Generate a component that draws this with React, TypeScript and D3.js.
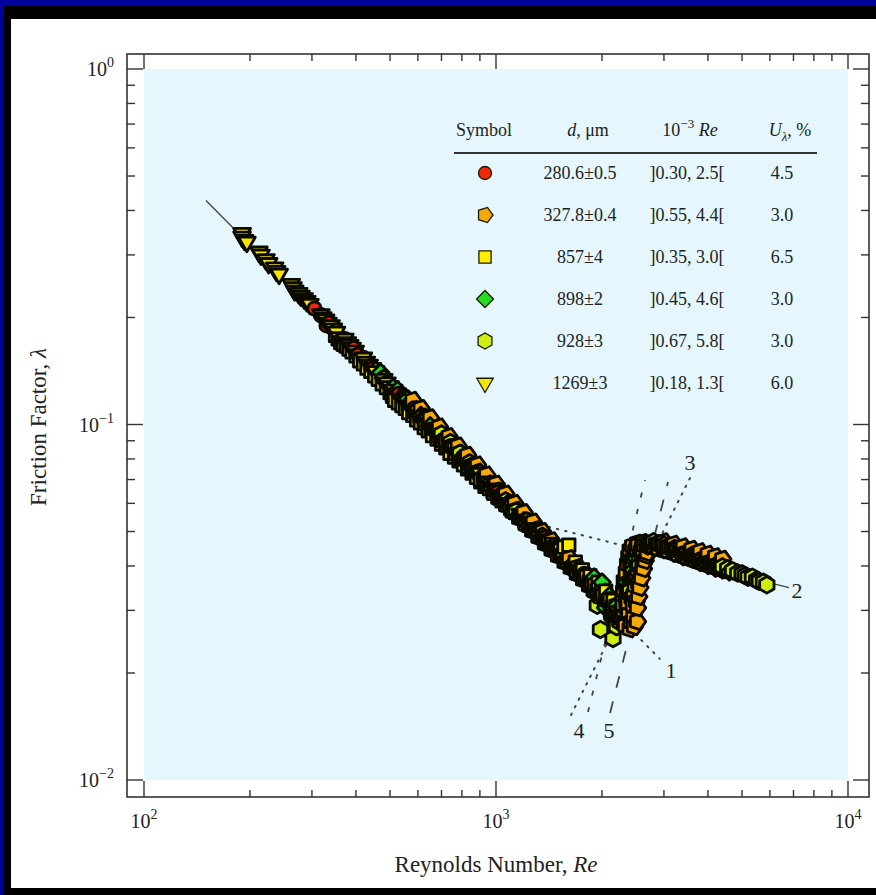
import React from "react";
import * as d3 from "d3";

const W = 876;
const H = 895;

// legend table text
const diameters = ["280.6±0.5", "327.8±0.4", "857±4", "898±2", "928±3", "1269±3"];
const reRanges = ["]0.30, 2.5[", "]0.55, 4.4[", "]0.35, 3.0[", "]0.45, 4.6[", "]0.67, 5.8[", "]0.18, 1.3["];
const uncertainties = ["4.5", "3.0", "6.5", "3.0", "3.0", "6.0"];

// measured points [Re, lambda] per tube diameter (several runs each)
const tube280 = [
  [305, 0.212], [318, 0.203], [335, 0.193], [352, 0.184], [372, 0.174], [395, 0.164],
  [420, 0.154], [448, 0.144], [478, 0.135], [510, 0.127], [545, 0.119], [585, 0.111],
  [625, 0.104], [670, 0.097], [720, 0.09], [775, 0.084], [835, 0.078], [900, 0.072],
  [970, 0.067], [1050, 0.062], [1130, 0.058], [1220, 0.054], [1320, 0.05], [1430, 0.046],
  [1540, 0.043], [1660, 0.0405], [1780, 0.038], [1900, 0.0365], [2000, 0.0355],
  [2080, 0.032], [2160, 0.029], [2250, 0.03], [2350, 0.033], [2450, 0.038],
  [330, 0.19], [365, 0.172], [405, 0.157], [440, 0.146], [490, 0.131], [530, 0.122],
  [565, 0.113], [605, 0.107], [650, 0.1], [695, 0.094], [745, 0.087], [805, 0.081],
  [870, 0.075], [935, 0.0695], [1010, 0.0645], [1090, 0.06], [1175, 0.056], [1270, 0.052],
  [1375, 0.048], [1485, 0.0445], [1600, 0.042], [1720, 0.0392], [1840, 0.0368], [1950, 0.0338],
  [2040, 0.0308], [2120, 0.0288], [2200, 0.0282], [2300, 0.0295], [2400, 0.035],
];

const tube328 = [
  [555, 0.118], [575, 0.114], [598, 0.109], [620, 0.105], [645, 0.101], [668, 0.097],
  [695, 0.0935], [722, 0.09], [752, 0.0865], [785, 0.083], [818, 0.0795], [852, 0.0765],
  [888, 0.0735], [925, 0.0705], [965, 0.0677], [1005, 0.065], [1048, 0.0624], [1092, 0.0598],
  [1140, 0.0574], [1190, 0.055], [1240, 0.0528], [1295, 0.0506], [1350, 0.0486], [1410, 0.0466],
  [1470, 0.0448], [1535, 0.043], [1600, 0.0413], [1665, 0.0398], [1735, 0.0383], [1805, 0.0369],
  [1875, 0.0356], [1945, 0.0343], [2015, 0.0331], [2085, 0.0319], [2150, 0.0308], [2215, 0.0297],
  [2280, 0.0287],
  [565, 0.112], [588, 0.108], [610, 0.1045], [632, 0.1], [657, 0.0965], [682, 0.0925],
  [708, 0.0895], [737, 0.0858], [768, 0.0825], [800, 0.079], [835, 0.0758], [870, 0.0728],
  [906, 0.0698], [945, 0.067], [985, 0.0642], [1027, 0.0617], [1070, 0.0592], [1116, 0.0568],
  [1165, 0.0545], [1215, 0.0523], [1268, 0.0502], [1322, 0.0482], [1380, 0.0462], [1440, 0.0444],
  [1502, 0.0427], [1568, 0.041], [1632, 0.0395], [1700, 0.038], [1770, 0.0366], [1840, 0.0352],
  [1910, 0.0339], [1980, 0.0327], [2050, 0.0315], [2118, 0.0303], [2182, 0.0292], [2245, 0.0282],
  [2310, 0.0275],
  [580, 0.117], [612, 0.111], [650, 0.1045], [690, 0.0985], [735, 0.0925], [780, 0.087],
  [830, 0.082], [885, 0.077], [940, 0.0722], [1000, 0.068], [1065, 0.0638], [1130, 0.06],
  [1200, 0.0566], [1275, 0.0532], [1355, 0.05], [1440, 0.0471], [1525, 0.0445], [1615, 0.042],
  [1710, 0.0397], [1810, 0.0375], [1910, 0.0355], [2010, 0.0338], [2110, 0.0322], [2200, 0.031],
  [2330, 0.0272], [2400, 0.0266], [2470, 0.027], [2300, 0.03], [2380, 0.0292], [2460, 0.0286],
  [2520, 0.0279], [2290, 0.032], [2370, 0.0315], [2450, 0.031], [2520, 0.0305],
  [2300, 0.034], [2380, 0.0336], [2460, 0.0332], [2540, 0.0328],
  [2320, 0.0362], [2400, 0.0357], [2480, 0.0352], [2560, 0.0348],
  [2340, 0.0384], [2420, 0.038], [2500, 0.0375], [2590, 0.037],
  [2360, 0.0405], [2440, 0.0402], [2520, 0.0398], [2620, 0.0393],
  [2380, 0.0425], [2460, 0.0422], [2550, 0.0418], [2650, 0.0414],
  [2400, 0.0443], [2490, 0.0442], [2580, 0.044], [2690, 0.0436],
  [2440, 0.0456], [2530, 0.0458], [2630, 0.0457], [2740, 0.0454],
  [2520, 0.0464], [2620, 0.0466], [2730, 0.0464],
  [2350, 0.0305], [2430, 0.0325], [2350, 0.035], [2440, 0.0368], [2520, 0.039], [2420, 0.0412],
  [2500, 0.043], [2600, 0.045], [2680, 0.046], [2780, 0.0466], [2260, 0.0285], [2420, 0.0278],
  [2500, 0.0318], [2540, 0.0358], [2580, 0.0382], [2610, 0.0404], [2680, 0.0428],
  [2850, 0.0461], [2950, 0.0457], [3050, 0.0453], [3150, 0.0449], [3250, 0.0445], [3350, 0.044],
  [3450, 0.0435], [3550, 0.043], [3650, 0.0426], [3750, 0.0421], [3850, 0.0417], [3950, 0.0413],
  [4050, 0.041], [4150, 0.0406], [4250, 0.0402], [4350, 0.0399],
  [2900, 0.0447], [3100, 0.0439], [3300, 0.043], [3500, 0.0422], [3700, 0.0414], [3900, 0.0407],
  [4100, 0.04], [4300, 0.0394],
  [3000, 0.0468], [3200, 0.0461], [3400, 0.0453], [3600, 0.0446], [3800, 0.0439], [4000, 0.0432],
  [4200, 0.0425], [4400, 0.0418],
  [2800, 0.0452], [3000, 0.0444], [3200, 0.0436], [3400, 0.0426], [3600, 0.0417], [3800, 0.0409],
  [4000, 0.0402], [4200, 0.0396], [4400, 0.039],
  [2760, 0.0458], [2880, 0.0453], [3060, 0.0446], [3260, 0.0438], [3460, 0.0431], [3660, 0.0423],
  [3860, 0.0415], [4060, 0.0408], [4260, 0.0401], [4380, 0.0408],
];

const tube857 = [
  [350, 0.178], [362, 0.17], [375, 0.166], [390, 0.16], [410, 0.151], [430, 0.144],
  [452, 0.137], [475, 0.13], [500, 0.123], [515, 0.117], [540, 0.113], [565, 0.108],
  [595, 0.103], [625, 0.098], [660, 0.093], [700, 0.088], [740, 0.083], [785, 0.079],
  [830, 0.075], [880, 0.071], [930, 0.067], [985, 0.064], [1040, 0.061], [1100, 0.058],
  [1170, 0.055], [1240, 0.052], [1320, 0.049], [1400, 0.047], [1480, 0.0445], [1560, 0.0452],
  [1610, 0.0458], [1680, 0.041], [1760, 0.039], [1850, 0.0375], [1950, 0.036], [2050, 0.034],
  [2150, 0.032], [2300, 0.036], [2400, 0.041], [2500, 0.0445], [2600, 0.046], [2800, 0.0455],
  [3000, 0.045],
  [356, 0.174], [368, 0.168], [382, 0.163], [400, 0.156], [420, 0.148], [441, 0.141],
  [463, 0.134], [488, 0.127], [508, 0.12], [528, 0.115], [552, 0.111], [580, 0.106],
  [610, 0.101], [642, 0.096], [680, 0.091], [720, 0.086], [762, 0.081], [808, 0.077],
  [855, 0.073], [905, 0.069], [958, 0.066], [1012, 0.0625], [1070, 0.0595], [1135, 0.0565],
  [1205, 0.0535], [1280, 0.0505], [1360, 0.048], [1440, 0.046], [1520, 0.0435],
];

const tube898 = [
  [455, 0.142], [480, 0.135], [510, 0.127], [540, 0.12], [575, 0.113], [612, 0.106],
  [650, 0.099], [695, 0.093], [740, 0.087], [790, 0.082], [845, 0.076], [905, 0.071],
  [970, 0.066], [1040, 0.062], [1120, 0.057], [1200, 0.0535], [1290, 0.05], [1390, 0.0465],
  [1490, 0.0435], [1600, 0.041], [1700, 0.039], [1800, 0.0375], [1900, 0.0372], [2000, 0.036],
  [2100, 0.033], [2200, 0.031], [2350, 0.036], [2500, 0.042], [2700, 0.046], [3000, 0.0445],
  [3400, 0.0425], [3800, 0.041], [4200, 0.0395], [4600, 0.0385],
  [470, 0.14], [525, 0.125], [560, 0.118], [595, 0.11], [630, 0.104], [672, 0.097],
  [717, 0.091], [765, 0.085], [818, 0.08], [875, 0.074], [937, 0.069], [1005, 0.064],
  [1080, 0.06], [1160, 0.0555], [1245, 0.052], [1340, 0.048], [1440, 0.045], [1545, 0.0425],
  [1650, 0.0398], [1750, 0.038], [1850, 0.036], [1950, 0.0335], [2050, 0.0305], [2150, 0.0285],
  [2250, 0.029], [2450, 0.039], [2600, 0.0445], [2850, 0.0455], [3200, 0.0435], [3600, 0.042],
  [4000, 0.0402], [4400, 0.039],
];

const tube928 = [
  [680, 0.096], [720, 0.091], [765, 0.086], [815, 0.08], [870, 0.075], [930, 0.07],
  [995, 0.065], [1065, 0.061], [1140, 0.057], [1220, 0.0535], [1310, 0.05], [1400, 0.0468],
  [1500, 0.0437], [1600, 0.041], [1700, 0.0385], [1800, 0.0365], [1900, 0.034], [1980, 0.0265],
  [2150, 0.025], [2200, 0.027], [2300, 0.031], [2400, 0.034], [2550, 0.04],
  [2700, 0.0455], [2900, 0.0462], [3100, 0.0452], [3350, 0.044], [3600, 0.0428], [3850, 0.0418],
  [4100, 0.0408], [4400, 0.0398], [4700, 0.0388], [4860, 0.0382], [5000, 0.038], [5200, 0.0372],
  [5350, 0.0372], [5600, 0.0362], [5880, 0.0354],
  [700, 0.094], [742, 0.089], [790, 0.083], [842, 0.078], [900, 0.073], [962, 0.068],
  [1030, 0.063], [1100, 0.059], [1180, 0.0552], [1265, 0.0518], [1355, 0.0485], [1450, 0.0452],
  [1550, 0.0425], [1650, 0.0398], [1750, 0.0376], [1850, 0.0352], [1940, 0.031],
  [2250, 0.0278], [2350, 0.0325], [2480, 0.037], [2620, 0.043],
  [2800, 0.0468], [3000, 0.0458], [3220, 0.0448], [3480, 0.0434], [3720, 0.0424], [3980, 0.0413],
  [4250, 0.0403], [4550, 0.0393], [5100, 0.0376], [5500, 0.0365], [5750, 0.036],
];

const tube1269 = [
  [190, 0.345], [190, 0.337], [193, 0.33], [196, 0.326], [212, 0.306], [215, 0.3],
  [222, 0.291], [226, 0.284], [235, 0.276], [238, 0.27], [242, 0.265], [262, 0.248],
  [265, 0.243], [268, 0.238], [275, 0.234], [279, 0.23], [285, 0.226], [290, 0.222],
  [296, 0.218], [318, 0.204], [322, 0.2], [328, 0.197], [333, 0.193], [340, 0.19],
  [345, 0.186], [352, 0.182], [372, 0.174], [378, 0.17], [384, 0.167], [390, 0.164],
  [398, 0.161], [420, 0.154], [428, 0.15], [436, 0.147], [445, 0.144], [455, 0.141],
  [480, 0.134], [490, 0.131], [500, 0.128], [512, 0.125], [525, 0.122], [555, 0.116],
  [570, 0.113], [590, 0.109], [610, 0.106], [640, 0.101], [665, 0.097], [690, 0.094],
  [720, 0.09], [750, 0.087], [785, 0.083], [820, 0.08], [860, 0.076], [900, 0.073],
  [950, 0.069], [1000, 0.066], [1050, 0.062], [1110, 0.059], [1170, 0.056], [1230, 0.053],
  [1290, 0.051],
];

// reference curves (endpoints, straight in log-log)
const laminarSolid = [[150, 0.4267], [2300, 0.02783]];
const laminarDotted = [[2300, 0.02783], [2920, 0.02192]];
const blasiusDotted = [[1200, 0.05369], [2300, 0.04563]];
const blasiusSolid = [[2300, 0.04563], [6800, 0.03475]];
const line3 = [[1634, 0.01524], [3557, 0.0707]];
const line4 = [[1825, 0.01553], [2651, 0.0698]];
const line5 = [[2109, 0.01543], [3081, 0.0689]];

const x = d3.scaleLog().domain([100, 10000]).range([144, 848]);
const y = d3.scaleLog().domain([0.01, 1]).range([780, 69]);

const poly = (n: number, r: number, rot: number) => {
  const pts = d3.range(n).map((i) => {
    const a = rot + (i * 2 * Math.PI) / n;
    return [r * Math.cos(a), r * Math.sin(a)];
  });
  return "M" + pts.map((p) => p[0].toFixed(2) + "," + p[1].toFixed(2)).join("L") + "Z";
};

const shapes = {
  circle: d3.symbol(d3.symbolCircle, 140)(),
  pentagon: poly(5, 8.5, 0),
  square: poly(4, 8.8, Math.PI / 4),
  diamond: poly(4, 8.5, 0),
  hexagon: poly(6, 8.3, Math.PI / 6),
  triangle: poly(3, 9.7, Math.PI / 2),
};
const legendShapes = {
  circle: d3.symbol(d3.symbolCircle, 133)(),
  pentagon: poly(5, 8, 0),
  square: poly(4, 8.6, Math.PI / 4),
  diamond: poly(4, 8.5, 0),
  hexagon: poly(6, 8, Math.PI / 6),
  triangle: poly(3, 9.5, Math.PI / 2),
};

const series = [
  { data: tube280, shape: "circle", fill: "#ee2a0c" },
  { data: tube328, shape: "pentagon", fill: "#f8a90a" },
  { data: tube857, shape: "square", fill: "#ffee00" },
  { data: tube898, shape: "diamond", fill: "#22dd22" },
  { data: tube928, shape: "hexagon", fill: "#cdee10" },
  { data: tube1269, shape: "triangle", fill: "#f4e600" },
];

// all markers drawn in order of increasing Re
const markers = series
  .flatMap((s, si) => s.data.map((d) => ({ d, si })))
  .sort((a, b) => a.d[0] - b.d[0]);

const line = d3
  .line<number[]>()
  .x((d) => x(d[0]))
  .y((d) => y(d[1]));

const serif = "'Liberation Serif', 'Times New Roman', serif";

const App = () => {
  const xMajors = [100, 1000, 10000];
  const yMajors = [0.01, 0.1, 1];
  const xMinors = [100, 1000].flatMap((b) => d3.range(2, 10).map((k) => k * b));
  const yMinors = [0.01, 0.1].flatMap((b) => d3.range(2, 10).map((k) => k * b));
  const fL = 127, fR = 869, fT = 54, fB = 797;
  const major = 16, minor = 7;

  return (
    <svg
      width={W}
      height={H}
      style={{ position: "absolute", left: 0, top: 0, fontFamily: serif }}
    >
      <rect width={W} height={H} fill="#00009a" />
      <rect x={4} y={6} width={W - 4} height={H - 6} fill="#000" />
      <rect x={11} y={19} width={W - 11} height={888 - 19} fill="#fff" />

      <rect x={144} y={69} width={848 - 144} height={780 - 69} fill="#e5f7fd" />

      {/* frame + ticks */}
      <rect x={fL} y={fT} width={fR - fL} height={fB - fT} fill="none" stroke="#333" strokeWidth={1.6} />
      <g stroke="#333" strokeWidth={1.4}>
        {xMajors.map((v) => (
          <g key={"xM" + v}>
            <line x1={x(v)} x2={x(v)} y1={fB} y2={fB - major} />
            <line x1={x(v)} x2={x(v)} y1={fT} y2={fT + 15} />
          </g>
        ))}
        {xMinors.map((v) => (
          <g key={"xm" + v}>
            <line x1={x(v)} x2={x(v)} y1={fB} y2={fB - minor} />
            <line x1={x(v)} x2={x(v)} y1={fT} y2={fT + minor} />
          </g>
        ))}
        {yMajors.map((v) => (
          <g key={"yM" + v}>
            <line x1={fL} x2={fL + major} y1={y(v)} y2={y(v)} />
            <line x1={fR} x2={fR - 16} y1={y(v)} y2={y(v)} />
          </g>
        ))}
        {yMinors.map((v) => (
          <g key={"ym" + v}>
            <line x1={fL} x2={fL + minor + 1} y1={y(v)} y2={y(v)} />
            <line x1={fR} x2={fR - minor - 1} y1={y(v)} y2={y(v)} />
          </g>
        ))}
      </g>

      {/* tick labels */}
      <g fontSize={20} fill="#222">
        {xMajors.map((v) => (
          <text key={"xl" + v} x={x(v)} y={828} textAnchor="middle">
            10
            <tspan dy={-9} fontSize={14}>
              {Math.round(Math.log10(v))}
            </tspan>
          </text>
        ))}
        {yMajors.map((v) => {
          const e = Math.round(Math.log10(v));
          return (
            <text key={"yl" + v} x={114} y={y(v) + 7} textAnchor="end">
              10
              <tspan dy={-9} fontSize={14}>
                {e < 0 ? "\u2212" + -e : String(e)}
              </tspan>
            </text>
          );
        })}
      </g>

      {/* axis titles */}
      <text x={496} y={872} textAnchor="middle" fontSize={23} fill="#222">
        Reynolds Number, <tspan fontStyle="italic">Re</tspan>
      </text>
      <text
        transform="translate(46,427) rotate(-90)"
        textAnchor="middle"
        fontSize={23}
        fill="#222"
      >
        Friction Factor, <tspan fontStyle="italic">λ</tspan>
      </text>

      {/* reference lines */}
      <g fill="none" stroke="#444">
        <path d={line(laminarSolid) || ""} strokeWidth={1.3} />
        <path d={line(blasiusSolid) || ""} strokeWidth={1.3} />
        <path d={line(laminarDotted) || ""} strokeWidth={2} strokeDasharray="1.5,7" strokeLinecap="round" />
        <path d={line(blasiusDotted) || ""} strokeWidth={2} strokeDasharray="1.5,7" strokeLinecap="round" />
        <path d={line(line3) || ""} strokeWidth={2} strokeDasharray="1.5,7" strokeLinecap="round" />
        <path d={line(line4) || ""} strokeWidth={1.8} strokeDasharray="5,12" />
        <path d={line(line5) || ""} strokeWidth={1.8} strokeDasharray="12,14" />
      </g>

      {/* data points */}
      <g stroke="#0a0a00" strokeWidth={2.8} strokeLinejoin="round">
        {markers.map((m, i) => (
          <path
            key={i}
            d={shapes[series[m.si].shape as keyof typeof shapes] || ""}
            transform={`translate(${x(m.d[0])},${y(m.d[1])})`}
            fill={series[m.si].fill}
          />
        ))}
      </g>

      {/* curve labels */}
      <g fontSize={22} fill="#222" textAnchor="middle">
        <text x={671} y={678}>1</text>
        <text x={797} y={598}>2</text>
        <text x={690} y={470}>3</text>
        <text x={579} y={738}>4</text>
        <text x={609} y={738}>5</text>
      </g>

      {/* legend table */}
      <g fontSize={18} fill="#222">
        <text x={484} y={136} textAnchor="middle">Symbol</text>
        <text x={588} y={136} textAnchor="middle">
          <tspan fontStyle="italic">d</tspan>, μm
        </text>
        <text x={690} y={136} textAnchor="middle">
          10<tspan dy={-8} fontSize={13}>−3</tspan>
          <tspan dy={8} fontStyle="italic"> Re</tspan>
        </text>
        <text x={790} y={136} textAnchor="middle">
          <tspan fontStyle="italic">U</tspan>
          <tspan dy={5} fontSize={13} fontStyle="italic">λ</tspan>
          <tspan dy={-5}>, %</tspan>
        </text>
        <line x1={454} x2={817} y1={153} y2={153} stroke="#333" strokeWidth={2} />
        {diameters.map((dm, i) => {
          const cy = 173 + i * 42;
          const s = series[i];
          return (
            <g key={dm}>
              <path
                d={legendShapes[s.shape as keyof typeof legendShapes] || ""}
                transform={`translate(485,${cy})`}
                fill={s.fill}
                stroke="#1a1a00"
                strokeWidth={1.3}
              />
              <text x={580} y={cy + 6} textAnchor="middle">{dm}</text>
              <text x={687} y={cy + 6} textAnchor="middle">{reRanges[i]}</text>
              <text x={782} y={cy + 6} textAnchor="middle">{uncertainties[i]}</text>
            </g>
          );
        })}
      </g>
    </svg>
  );
};

export default App;
